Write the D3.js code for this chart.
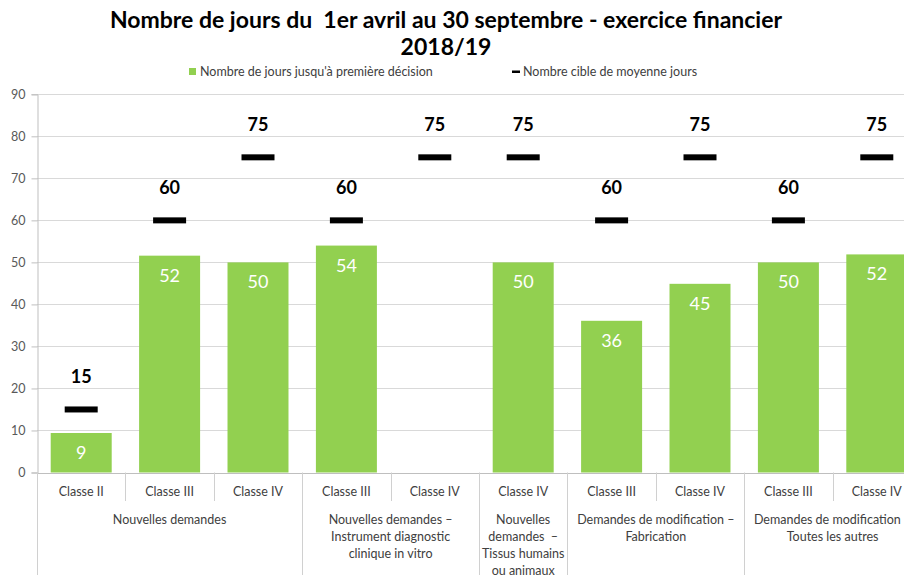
<!DOCTYPE html>
<head>
  <meta charset="utf-8">
  <script src="https://d3js.org/d3.v7.min.js"></script>
  <style type="text/css">
    body { margin:0; background:#fff; overflow:hidden; }
    text { font-family: Lato, "Open Sans", sans-serif; }
    .grid line { stroke: #d9d9d9; stroke-width: 1; }
    .bar { fill: #92d050; }
    .target { fill: #000; }
  </style>
</head>
<body>
  <script>
    // data
    var categories = ["Classe II", "Classe III", "Classe IV", "Classe III", "Classe IV",
                      "Classe IV", "Classe III", "Classe IV", "Classe III", "Classe IV"];
    var days = [9.4, 51.6, 50, 54, null, 50, 36.1, 44.9, 50, 51.9];
    var targets = [15, 60, 75, 60, 75, 75, 60, 75, 60, 75];
    var groups = [
      {start: 0, end: 3, lines: ["Nouvelles demandes"]},
      {start: 3, end: 5, lines: ["Nouvelles demandes \u2013", "Instrument diagnostic", "clinique in vitro"]},
      {start: 5, end: 6, lines: ["Nouvelles", "demandes  \u2013", "Tissus humains", "ou animaux"]},
      {start: 6, end: 8, lines: ["Demandes de modification \u2013", "Fabrication"]},
      {start: 8, end: 10, lines: ["Demandes de modification \u2013", "Toutes les autres"]}
    ];
    var yTicks = [0, 10, 20, 30, 40, 50, 60, 70, 80, 90];
    var titleLines = ["Nombre de jours du  1er avril au 30 septembre - exercice financier", "2018/19"];
    var legendLabels = ["Nombre de jours jusqu'\u00e0 premi\u00e8re d\u00e9cision", "Nombre cible de moyenne jours"];

    var width = 904, height = 575;
    var plotLeft = 37, plotRight = 921, plotTop = 94.3, plotBottom = 472.5;

    var svg = d3.select("body").append("svg")
      .attr("width", width)
      .attr("height", height);

    var x = d3.scaleBand()
      .domain(d3.range(categories.length))
      .range([plotLeft, plotRight])
      .paddingInner(0.31)
      .paddingOuter(0.155);
    var step = x.step();
    function edge(k) { return plotLeft + k * step; }

    var y = d3.scaleLinear()
      .domain([0, 90])
      .range([plotBottom, plotTop]);

    // title
    svg.selectAll(".title")
      .data(titleLines)
      .enter().append("text")
      .attr("class", "title")
      .attr("x", 446)
      .attr("y", function(d, i) { return 28 + i * 27; })
      .attr("text-anchor", "middle")
      .style("white-space", "pre")
      .style("font-size", "23px")
      .style("font-weight", "bold")
      .style("fill", "#000")
      .text(function(d) { return d; });

    // legend
    var lg = svg.append("g").style("font-size", "12.5px").style("fill", "#404040");
    lg.append("rect").attr("x", 189).attr("y", 68).attr("width", 7).attr("height", 7).attr("fill", "#92d050");
    lg.append("text").attr("x", 200).attr("y", 76).text(legendLabels[0]);
    lg.append("rect").attr("x", 512).attr("y", 70.5).attr("width", 8).attr("height", 2.5).attr("fill", "#000");
    lg.append("text").attr("x", 523).attr("y", 76).text(legendLabels[1]);

    // gridlines
    svg.append("g")
      .attr("class", "grid")
      .selectAll("line")
      .data(yTicks.slice(1))
      .enter().append("line")
      .attr("x1", plotLeft).attr("x2", width)
      .attr("y1", function(d) { return Math.round(y(d)) + 0.5; })
      .attr("y2", function(d) { return Math.round(y(d)) + 0.5; });

    // y axis
    var yAxis = svg.append("g")
      .attr("transform", "translate(" + (plotLeft + 0.5) + ",0)")
      .call(d3.axisLeft(y).tickValues(yTicks).tickSize(6).tickPadding(6));
    yAxis.select(".domain").attr("stroke", "#bfbfbf");
    yAxis.selectAll(".tick line").attr("stroke", "#bfbfbf");
    yAxis.selectAll(".tick text")
      .style("font-family", "Lato, sans-serif")
      .style("font-size", "12.5px")
      .style("fill", "#595959");

    // bars
    var barData = days.map(function(v, i) { return {i: i, v: v}; }).filter(function(d) { return d.v !== null; });
    svg.selectAll(".bar")
      .data(barData)
      .enter().append("rect")
      .attr("class", "bar")
      .attr("x", function(d) { return x(d.i); })
      .attr("width", x.bandwidth())
      .attr("y", function(d) { return y(d.v); })
      .attr("height", function(d) { return y(0) - y(d.v); });

    svg.selectAll(".barlabel")
      .data(barData)
      .enter().append("text")
      .attr("class", "barlabel")
      .attr("x", function(d) { return x(d.i) + x.bandwidth() / 2; })
      .attr("y", function(d) { return y(d.v) + 26; })
      .attr("text-anchor", "middle")
      .style("font-size", "18px")
      .style("fill", "#fff")
      .text(function(d) { return d3.format(".0f")(d.v); });

    // target markers
    svg.selectAll(".target")
      .data(targets)
      .enter().append("rect")
      .attr("class", "target")
      .attr("x", function(d, i) { return x(i) + x.bandwidth() / 2 - 16.5; })
      .attr("width", 33)
      .attr("y", function(d) { return y(d) - 3; })
      .attr("height", 6);

    svg.selectAll(".targetlabel")
      .data(targets)
      .enter().append("text")
      .attr("class", "targetlabel")
      .attr("x", function(d, i) { return x(i) + x.bandwidth() / 2; })
      .attr("y", function(d) { return y(d) - 26; })
      .attr("text-anchor", "middle")
      .style("font-size", "18px")
      .style("font-weight", "bold")
      .style("fill", "#000")
      .text(function(d) { return d; });

    // x axis
    svg.append("line")
      .attr("x1", plotLeft).attr("x2", width)
      .attr("y1", Math.round(plotBottom) + 0.5).attr("y2", Math.round(plotBottom) + 0.5)
      .attr("stroke", "#bfbfbf");

    var groupEdges = [0];
    groups.forEach(function(g) { groupEdges.push(g.end); });
    svg.selectAll(".sep")
      .data(d3.range(categories.length + 1))
      .enter().append("line")
      .attr("class", "sep")
      .attr("x1", function(k) { return Math.round(edge(k)) + 0.5; })
      .attr("x2", function(k) { return Math.round(edge(k)) + 0.5; })
      .attr("y1", plotBottom)
      .attr("y2", function(k) { return groupEdges.indexOf(k) >= 0 ? height : 501; })
      .attr("stroke", "#d0d0d0");

    svg.selectAll(".cat")
      .data(categories)
      .enter().append("text")
      .attr("class", "cat")
      .attr("x", function(d, i) { return x(i) + x.bandwidth() / 2; })
      .attr("y", 496)
      .attr("text-anchor", "middle")
      .style("font-size", "12.5px")
      .style("fill", "#404040")
      .text(function(d) { return d; });

    var gl = svg.selectAll(".group")
      .data(groups)
      .enter().append("text")
      .attr("class", "group")
      .attr("text-anchor", "middle")
      .style("white-space", "pre")
      .style("font-size", "12.5px")
      .style("fill", "#404040");
    gl.selectAll("tspan")
      .data(function(g) { return g.lines.map(function(l) { return {g: g, l: l}; }); })
      .enter().append("tspan")
      .attr("x", function(d) { return (edge(d.g.start) + edge(d.g.end)) / 2; })
      .attr("y", function(d, j) { return 524 + j * 17; })
      .text(function(d) { return d.l; });
  </script>
</body>
